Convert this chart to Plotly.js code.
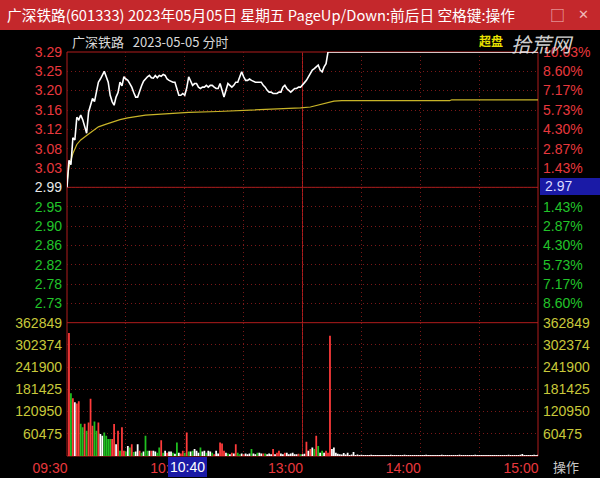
<!DOCTYPE html>
<html><head><meta charset="utf-8">
<script src="https://cdn.plot.ly/plotly-3.0.1.min.js"></script>
<style>html,body{margin:0;padding:0;background:#000;}#chart{width:600px;height:478px;}</style>
</head><body><div id="chart"></div>
<script>
// ---------- data ----------
const titleText = '广深铁路(601333) 2023年05月05日 星期五 PageUp/Down:前后日 空格键:操作';
const subTitle = '广深铁路&nbsp;&nbsp;&nbsp;2023-05-05 分时';
const tagText = '超盘';
const watermark = '拾荒网';
const cursorPrice = '2.97';
const cursorTime = '10:40';
const cornerText = '操作';

const preClose = 2.99;
const pctLevels = [10.03, 8.60, 7.17, 5.73, 4.30, 2.87, 1.43, 0, -1.43, -2.87, -4.30, -5.73, -7.17, -8.60];
const priceLabels = ['3.29','3.25','3.20','3.16','3.12','3.08','3.03','2.99','2.95','2.90','2.86','2.82','2.78','2.73'];
const pctLabels = ['10.03%','8.60%','7.17%','5.73%','4.30%','2.87%','1.43%','','1.43%','2.87%','4.30%','5.73%','7.17%','8.60%'];
const volTicks = [60475, 120950, 181425, 241900, 302374, 362849];
const volLabels = ['60475','120950','181425','241900','302374','362849'];
const timeTicks = [0, 60, 120, 180, 240];
const timeLabels = ['09:30','10:30','13:00','14:00','15:00'];
const halfHourTicks = [30, 90, 150, 210];

// minute-by-minute price 09:30 .. limit-up, then flat to 15:00
const priceVal = [
 2.99,3.05,3.04,3.10,3.095,3.145,3.14,3.15,3.14,3.125,
 3.11,3.157,3.17,3.187,3.18,3.20,3.223,3.23,3.238,3.247,
 3.235,3.223,3.194,3.18,3.172,3.19,3.20,3.223,3.215,3.235,
 3.23,3.227,3.22,3.212,3.20,3.19,3.19,3.205,3.215,3.225,
 3.231,3.235,3.238,3.233,3.232,3.238,3.233,3.238,3.236,3.24,
 3.238,3.23,3.227,3.225,3.223,3.223,3.21,3.194,3.194,3.198,
 3.194,3.21,3.235,3.225,3.216,3.22,3.22,3.212,3.209,3.212,
 3.212,3.216,3.212,3.216,3.216,3.212,3.209,3.209,3.22,3.205,
 3.19,3.205,3.22,3.216,3.212,3.216,3.223,3.223,3.235,3.246,
 3.235,3.227,3.227,3.23,3.227,3.225,3.223,3.223,3.223,3.223,
 3.216,3.212,3.205,3.201,3.201,3.198,3.198,3.198,3.201,3.201,
 3.212,3.216,3.209,3.205,3.201,3.205,3.209,3.209,3.212,3.212,
 3.216,3.222,3.227,3.235,3.24,3.25,3.253,3.258,3.261,3.25,
 3.246,3.257,3.264,3.29,3.29
];
const priceTime = [...Array(134).keys(), 240];

const avgTime = [0,1,2,3,5,7,10,13,16,20,23,27,31,35,40,50,62,77,90,102,119,124,128,131,133,136,140,195,196,240];
const avgVal  = [3.00,3.035,3.05,3.065,3.085,3.095,3.105,3.115,3.124,3.13,3.135,3.14,3.144,3.147,3.15,3.153,3.156,3.158,3.16,3.163,3.166,3.168,3.172,3.175,3.178,3.181,3.182,3.182,3.184,3.184];

const volVal = [
 335000,171000,157000,146500,143000,149000,88000,78000,88000,69000,91500,156000,82000,94000,69000,91500,60000,55000,64000,55000,
 46000,46000,46000,87000,32000,69000,14000,78000,14000,12000,27500,23000,32000,11000,12000,32000,14000,9000,12000,55000,
 14000,14000,14000,14000,12000,9000,23000,43000,9000,14000,9000,12000,12000,9000,6000,37000,9000,7000,14000,9000,
 64000,12000,12000,14000,19000,14000,9000,23000,12000,14000,9000,14000,12000,9000,4500,14000,6500,37000,34000,14000,
 9000,6500,4500,9000,6500,32000,9000,4500,6500,4500,6500,4500,6500,19000,6500,4500,9000,9000,6500,6500,
 6500,4500,6500,5000,19000,4500,9000,14000,6500,4500,9000,9000,4500,6500,9000,5000,4500,6000,5000,4500,
 6000,39000,14000,19000,23000,19000,55000,27000,9000,14000,9000,14000,9000,327000,19000,23000,9000,6000,5000,4000,
 8000,4000,9000,3000,4000,11000,3000,4000,3000,3500,3000,2500,3000,2800,3200,2600,3000,2400,2800,3000,
 2600,3000,2500,2800,3100,2700,2900,2500,3000,2600,2800,3200,2700,2500,2900,3000,2600,2800,2400,3000,
 2700,2900,3100,2600,2800,2500,3000,2700,2900,2600,3200,2800,2500,2700,3000,2600,2900,2800,2500,3100,
 2700,2600,3000,2800,2500,2900,2700,3100,2600,2800,3000,2500,2700,2900,2600,3000,2800,2700,2500,2900,
 3000,2600,2800,2700,3100,2500,2900,2600,2800,3000,3200,5500,2700,2900,2600,3000,2800,3100,2700,3500,
 6000
];
// u = up tick, d = down tick, f = flat
const volDir = (
 'udufuudduduuudduffdd' + 'dduufuduudfdudffudfd' +
 'dfuffddudfuffdfdfuud' + 'udfdfffdffdffduffuuu' +
 'fdfufuddfufffdffdffu' + 'dfffufuuffuffffffudf' +
 'fufufdudfdfuuuffffff' +
 'ffffffffff' + 'ffffffffff' + 'ffffffffff' + 'ffffffffff' + 'ffffffffff' +
 'ffffffffff' + 'ffffffffff' + 'ffffffffff' + 'ffffffffff' + 'ffffffffff' + 'f'
).split('');

// ---------- styling ----------
const RED = '#e8383d', GREEN = '#22c42a', WHITE = '#e8e8e8', YELLOW = '#c8c83a';
const dirColor = {u: '#ff3b3b', d: '#20c020', f: '#ffffff'};
const num = 'Liberation Sans, Arial, sans-serif';
const cjk = 'Noto Sans CJK SC, sans-serif';

const lo = preClose * (1 - 0.1003), hi = preClose * (1 + 0.1003);
const priceTickVals = pctLevels.map(p => preClose * (1 + p / 100));
const colorFor = p => p > 0 ? RED : (p < 0 ? GREEN : WHITE);
const leftPriceText = priceLabels.map((t, i) => `<span style="color:${colorFor(pctLevels[i])}">${t}</span>`);
const rightIdx = pctLevels.map((p, i) => i).filter(i => pctLevels[i] !== 0);
const rightPctVals = rightIdx.map(i => priceTickVals[i]);
const rightPctText = rightIdx.map(i => `<span style="color:${colorFor(pctLevels[i])}">${pctLabels[i]}</span>`);

const L = 67, R = 538, T = 52, B = 456;
const px = x => (x - L) / (R - L);
const py = y => (B - y) / (B - T);
const split = 0.33;

const traces = [
  {type: 'bar', x: volVal.map((v, i) => i), y: volVal, xaxis: 'x', yaxis: 'y2',
   width: 0.9, offset: 0.55,
   marker: {color: volDir.map(d => dirColor[d]), line: {width: 0}}, hoverinfo: 'skip'},
  {type: 'scatter', mode: 'lines', x: avgTime, y: avgVal, xaxis: 'x', yaxis: 'y',
   line: {color: '#c8b428', width: 1.2}, hoverinfo: 'skip'},
  {type: 'scatter', mode: 'lines', x: priceTime, y: priceVal, xaxis: 'x', yaxis: 'y',
   line: {color: '#ffffff', width: 1.6}, cliponaxis: false, hoverinfo: 'skip'},
  {type: 'scatter', mode: 'markers', x: [0], y: [preClose], xaxis: 'x', yaxis: 'y3',
   marker: {opacity: 0}, hoverinfo: 'skip'},
  {type: 'scatter', mode: 'markers', x: [0], y: [0], xaxis: 'x', yaxis: 'y4',
   marker: {opacity: 0}, hoverinfo: 'skip'}
];

const gridC = '#7a1818', solidC = '#b01c1c';
const dotDash = '1px,3px';

const layout = {
  width: 600, height: 478,
  margin: {l: L, r: 600 - R, t: T, b: 478 - B, pad: 0},
  paper_bgcolor: '#000000', plot_bgcolor: 'rgba(0,0,0,0)',
  showlegend: false,
  xaxis: {
    domain: [0, 1], anchor: 'y2', range: [0, 240], fixedrange: true,
    tickmode: 'array', tickvals: timeTicks, ticktext: timeLabels,
    tickfont: {family: num, size: 14, color: RED}, ticks: '', ticklabelshift: -17, ticklabelstandoff: 2,
    showgrid: true, gridcolor: gridC, griddash: dotDash, gridwidth: 1,
    minor: {tickmode: 'array', tickvals: halfHourTicks, showgrid: true, gridcolor: gridC, griddash: dotDash, ticks: ''},
    zeroline: false, showline: false
  },
  yaxis: {
    domain: [split, 1], anchor: 'x', range: [lo, hi], fixedrange: true,
    tickmode: 'array', tickvals: priceTickVals, ticktext: leftPriceText,
    tickfont: {family: num, size: 14, color: RED}, ticks: '', ticklabelstandoff: 4,
    showgrid: true, gridcolor: gridC, griddash: dotDash, zeroline: false, showline: false
  },
  yaxis3: {
    overlaying: 'y', side: 'right', anchor: 'x', range: [lo, hi], fixedrange: true,
    tickmode: 'array', tickvals: rightPctVals, ticktext: rightPctText,
    tickfont: {family: num, size: 14, color: RED}, ticks: '', ticklabelstandoff: 4,
    showgrid: false, zeroline: false, showline: false
  },
  yaxis2: {
    domain: [0, split], anchor: 'x', range: [0, volTicks[volTicks.length - 1]], fixedrange: true,
    tickmode: 'array', tickvals: volTicks, ticktext: volLabels,
    tickfont: {family: num, size: 14, color: YELLOW}, ticks: '', ticklabelstandoff: 4,
    showgrid: true, gridcolor: gridC, griddash: dotDash, zeroline: false, showline: false
  },
  yaxis4: {
    overlaying: 'y2', side: 'right', anchor: 'x', range: [0, volTicks[volTicks.length - 1]], fixedrange: true,
    tickmode: 'array', tickvals: volTicks, ticktext: volLabels,
    tickfont: {family: num, size: 14, color: YELLOW}, ticks: '', ticklabelstandoff: 4,
    showgrid: false, zeroline: false, showline: false
  },
  shapes: [
    {type: 'rect', xref: 'paper', yref: 'paper', x0: px(0), x1: px(600), y0: py(30), y1: py(0),
     fillcolor: '#c4282c', line: {width: 0}, layer: 'above'},
    {type: 'line', xref: 'paper', yref: 'paper', x0: 0, x1: 1, y0: 1, y1: 1, line: {color: solidC, width: 1}, layer: 'below'},
    {type: 'line', xref: 'paper', yref: 'paper', x0: 0, x1: 1, y0: 0, y1: 0, line: {color: solidC, width: 1}, layer: 'below'},
    {type: 'line', xref: 'paper', yref: 'paper', x0: 0, x1: 1, y0: split, y1: split, line: {color: solidC, width: 1}, layer: 'below'},
    {type: 'line', xref: 'paper', yref: 'paper', x0: 0, x1: 0, y0: 0, y1: 1, line: {color: solidC, width: 1}, layer: 'below'},
    {type: 'line', xref: 'paper', yref: 'paper', x0: 1, x1: 1, y0: 0, y1: 1, line: {color: solidC, width: 1}, layer: 'below'},
    {type: 'line', xref: 'x', yref: 'paper', x0: 120, x1: 120, y0: 0, y1: 1, line: {color: solidC, width: 1}, layer: 'below'},
    {type: 'line', xref: 'paper', yref: 'y', x0: 0, x1: 1, y0: preClose, y1: preClose, line: {color: solidC, width: 1}, layer: 'below'},
    {type: 'rect', xref: 'paper', yref: 'paper', x0: px(540), x1: px(600), y0: py(195), y1: py(178),
     fillcolor: '#1a1aa6', line: {width: 0}, layer: 'above'},
    {type: 'rect', xref: 'paper', yref: 'paper', x0: px(168), x1: px(207), y0: py(477), y1: py(457),
     fillcolor: '#1a1aa6', line: {width: 0}, layer: 'above'}
  ],
  annotations: [
    {text: titleText, xref: 'paper', yref: 'paper', x: px(5), y: py(15), xanchor: 'left', yanchor: 'middle',
     showarrow: false, font: {family: cjk, size: 14.7, color: '#ffffff'}},
    {text: '□', xref: 'paper', yref: 'paper', x: px(557), y: py(15), xanchor: 'center', yanchor: 'middle',
     showarrow: false, font: {family: cjk, size: 15, color: '#f0b8b8'}},
    {text: '✕', xref: 'paper', yref: 'paper', x: px(583), y: py(15), xanchor: 'center', yanchor: 'middle',
     showarrow: false, font: {family: 'DejaVu Sans', size: 13, color: '#f0b8b8'}},
    {text: subTitle, xref: 'paper', yref: 'paper', x: px(70), y: py(42), xanchor: 'left', yanchor: 'middle',
     showarrow: false, font: {family: cjk, size: 13, color: '#d8d8d8'}},
    {text: tagText, xref: 'paper', yref: 'paper', x: px(491), y: py(41), xanchor: 'center', yanchor: 'middle',
     showarrow: false, font: {family: cjk, size: 12, color: '#e8e000', weight: 700}},
    {text: watermark, xref: 'paper', yref: 'paper', x: px(542), y: py(44), xanchor: 'center', yanchor: 'middle',
     showarrow: false, font: {family: cjk, size: 20, color: 'rgba(235,235,235,0.9)', style: 'italic'}},
    {text: cursorPrice, xref: 'paper', yref: 'paper', x: px(543), y: py(186.5), xanchor: 'left', yanchor: 'middle',
     showarrow: false, font: {family: num, size: 14, color: '#dcdcff'}},
    {text: cursorTime, xref: 'paper', yref: 'paper', x: px(187.5), y: py(467), xanchor: 'center', yanchor: 'middle',
     showarrow: false, font: {family: num, size: 14, color: '#ffffff'}},
    {text: cornerText, xref: 'paper', yref: 'paper', x: px(566), y: py(466), xanchor: 'center', yanchor: 'middle',
     showarrow: false, font: {family: cjk, size: 13, color: '#c8c8c8'}}
  ]
};

Plotly.newPlot('chart', traces, layout, {staticPlot: true, displayModeBar: false}).then(() => {
  const ps = document.querySelectorAll('.bars .point path');
  let s = 'DIAG n=' + ps.length + ' | ';
  ps.forEach((p, i) => { if (i < 3 || i === 133) s += i + ':' + p.getAttribute('d') + ' ' + p.style.fill + ' ; '; });
  console.error(s);
});
</script>
</body></html>
